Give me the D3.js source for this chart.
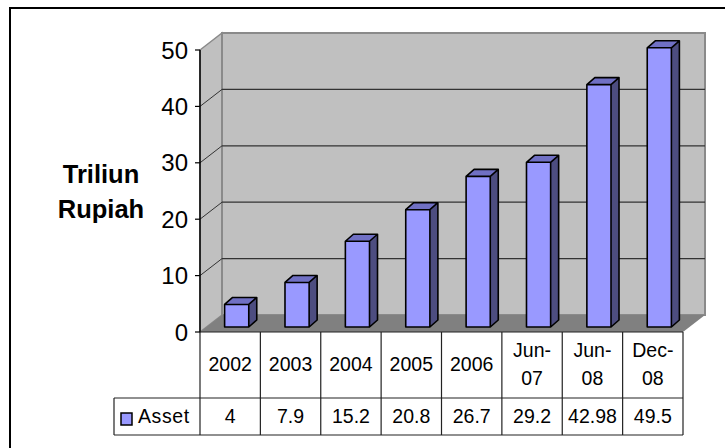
<!DOCTYPE html>
<html>
<head>
<meta charset="utf-8">
<script src="https://cdn.jsdelivr.net/npm/d3@7"></script>
<style>
  body { margin: 0; background: #fff; }
  svg { display: block; font-family: Arial, "Liberation Sans", sans-serif; }
</style>
</head>
<body>
<div class="panel"></div>
<script>
// Data
const categories = ["2002", "2003", "2004", "2005", "2006", "Jun-07", "Jun-08", "Dec-08"];
const assetValues = [4, 7.9, 15.2, 20.8, 26.7, 29.2, 42.98, 49.5];
const assetLabels = ["4", "7.9", "15.2", "20.8", "26.7", "29.2", "42.98", "49.5"];
const yTicks = [0, 10, 20, 30, 40, 50];
const seriesName = "Asset";
const axisTitle = ["Triliun", "Rupiah"];

const params = {
    width: 725,
    height: 448,
    left: 200,
    right: 683,
    floorY: 332,
    depthX: 22,
    depthY: 17,
    barOffX: 6.5,
    barOffY: 5,
    barDepthX: 8,
    barDepthY: 7
};

const svg = d3.select(".panel").append("svg")
    .attr("width", params.width)
    .attr("height", params.height);

// chart border
svg.append("rect")
    .attr("x", 10).attr("y", 8)
    .attr("width", 730).attr("height", 460)
    .attr("fill", "#fff")
    .attr("stroke", "#000")
    .attr("stroke-width", 2);

const x = d3.scaleBand()
    .domain(categories)
    .range([params.left, params.right]);

const y = d3.scaleLinear()
    .domain([0, 50])
    .range([params.floorY, 50]);

const dx = params.depthX, dy = params.depthY;

// walls
svg.append("polygon")
    .attr("points", [[params.left, y(50)], [params.left + dx, y(50) - dy],
        [params.left + dx, y(0) - dy], [params.left, y(0)]].join(" "))
    .attr("fill", "#c0c0c0")
    .attr("stroke", "#8a8a8a")
    .attr("stroke-width", 1.5);

svg.append("rect")
    .attr("x", params.left + dx)
    .attr("y", y(50) - dy)
    .attr("width", params.right - params.left)
    .attr("height", y(0) - y(50))
    .attr("fill", "#c0c0c0")
    .attr("stroke", "#8a8a8a")
    .attr("stroke-width", 2);

// floor
svg.append("polygon")
    .attr("points", [[params.left, y(0)], [params.left + dx, y(0) - dy],
        [params.right + dx, y(0) - dy], [params.right, y(0)]].join(" "))
    .attr("fill", "#808080");

// gridlines
const grid = yTicks.filter(d => d > 0 && d < 50);
svg.selectAll(".grid-back")
    .data(grid)
    .enter().append("line")
    .attr("x1", params.left + dx).attr("x2", params.right + dx)
    .attr("y1", d => y(d) - dy).attr("y2", d => y(d) - dy)
    .attr("stroke", "#333").attr("stroke-width", 1.2);

svg.selectAll(".grid-side")
    .data(grid)
    .enter().append("line")
    .attr("x1", params.left).attr("x2", params.left + dx)
    .attr("y1", d => y(d)).attr("y2", d => y(d) - dy)
    .attr("stroke", "#333").attr("stroke-width", 1);

// axis line + ticks
svg.append("line")
    .attr("x1", params.left).attr("x2", params.left)
    .attr("y1", y(50)).attr("y2", y(0))
    .attr("stroke", "#000").attr("stroke-width", 1.5);

svg.selectAll(".tick")
    .data(yTicks)
    .enter().append("line")
    .attr("x1", params.left - 5).attr("x2", params.left)
    .attr("y1", d => y(d)).attr("y2", d => y(d))
    .attr("stroke", "#000").attr("stroke-width", 1.2);

svg.selectAll(".tick-label")
    .data(yTicks)
    .enter().append("text")
    .attr("x", 188)
    .attr("y", d => y(d) + 8.5)
    .attr("text-anchor", "end")
    .attr("font-size", 24)
    .text(d => d);

svg.selectAll(".axis-title")
    .data(axisTitle)
    .enter().append("text")
    .attr("x", 101)
    .attr("y", (d, i) => 183 + i * 35)
    .attr("text-anchor", "middle")
    .attr("font-size", 25.5)
    .attr("font-weight", "bold")
    .text(d => d);

// bars
const bw = x.bandwidth() * 0.4;
const bars = svg.selectAll(".bar")
    .data(categories.map((c, i) => ({ c: c, v: assetValues[i] })))
    .enter().append("g");

bars.each(function(d) {
    const g = d3.select(this);
    const x0 = x(d.c) + x.bandwidth() / 2 - bw / 2 + params.barOffX;
    const x1 = x0 + bw;
    const yb = y(0) - params.barOffY;
    const yt = y(d.v) - params.barOffY;
    const bx = params.barDepthX, by = params.barDepthY;

    g.append("polygon")
        .attr("points", [[x1, yt], [x1 + bx, yt - by], [x1 + bx, yb - by], [x1, yb]].join(" "))
        .attr("fill", "#4d4d80");
    g.append("polygon")
        .attr("points", [[x0, yt], [x0 + bx, yt - by], [x1 + bx, yt - by], [x1, yt]].join(" "))
        .attr("fill", "#7070c4");
    g.append("rect")
        .attr("x", x0).attr("y", yt)
        .attr("width", bw).attr("height", yb - yt)
        .attr("fill", "#9999ff");
    g.append("path")
        .attr("d", `M${x0},${yb}L${x0},${yt}L${x0 + bx},${yt - by}L${x1 + bx},${yt - by}L${x1 + bx},${yb - by}L${x1},${yb}Z M${x1},${yb}L${x1},${yt}L${x1 + bx},${yt - by} M${x1},${yt}L${x0},${yt}`)
        .attr("fill", "none")
        .attr("stroke", "#000")
        .attr("stroke-width", 1.6)
        .attr("stroke-linejoin", "round");
});

// data table
const rowTop = params.floorY, rowMid = 398, rowBot = 435, keyLeft = 114;
const lineColor = "#222";

svg.append("line")
    .attr("x1", params.left).attr("x2", params.right)
    .attr("y1", rowTop).attr("y2", rowTop)
    .attr("stroke", lineColor).attr("stroke-width", 1.2);
[rowMid, rowBot].forEach(yy => {
    svg.append("line")
        .attr("x1", keyLeft).attr("x2", params.right)
        .attr("y1", yy).attr("y2", yy)
        .attr("stroke", lineColor).attr("stroke-width", 1.2);
});
svg.append("line")
    .attr("x1", keyLeft).attr("x2", keyLeft)
    .attr("y1", rowMid).attr("y2", rowBot)
    .attr("stroke", lineColor).attr("stroke-width", 1.2);

svg.selectAll(".col-line")
    .data(categories.concat(["end"]))
    .enter().append("line")
    .attr("x1", (d, i) => params.left + i * x.step())
    .attr("x2", (d, i) => params.left + i * x.step())
    .attr("y1", rowTop).attr("y2", rowBot)
    .attr("stroke", lineColor).attr("stroke-width", 1.2);

// header cells
const head = svg.selectAll(".head")
    .data(categories)
    .enter().append("text")
    .attr("text-anchor", "middle")
    .attr("font-size", 19.5);

head.each(function(d) {
    const t = d3.select(this);
    const cx = x(d) + x.bandwidth() / 2;
    if (d.includes("-")) {
        const parts = d.split("-");
        t.append("tspan").attr("x", cx).attr("y", 357).text(parts[0] + "-");
        t.append("tspan").attr("x", cx).attr("y", 385).text(parts[1]);
    } else {
        t.attr("x", cx).attr("y", 371).text(d);
    }
});

// value cells
svg.selectAll(".val")
    .data(categories)
    .enter().append("text")
    .attr("x", d => x(d) + x.bandwidth() / 2)
    .attr("y", 423)
    .attr("text-anchor", "middle")
    .attr("font-size", 19.5)
    .text((d, i) => assetLabels[i]);

// legend key
svg.append("rect")
    .attr("x", 121).attr("y", 413)
    .attr("width", 11).attr("height", 12)
    .attr("fill", "#9999ff")
    .attr("stroke", "#000")
    .attr("stroke-width", 1.5);

svg.append("text")
    .attr("x", 138).attr("y", 423)
    .attr("font-size", 19.5)
    .attr("letter-spacing", 0.6)
    .text(seriesName);
</script>
</body>
</html>
